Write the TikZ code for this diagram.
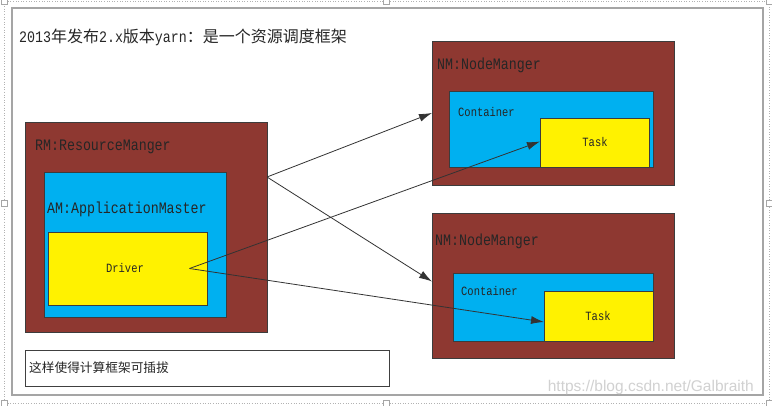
\documentclass[tikz,border=0pt]{standalone}
\usepackage{fontspec}
\setmainfont{Liberation Mono}[FakeStretch=0.83]
\newfontfamily\cjk{Noto Sans CJK SC}
\newfontfamily\wmfont{Liberation Sans}
\usetikzlibrary{arrows.meta}
\definecolor{rmbrown}{RGB}{142,56,49}
\definecolor{amblue}{RGB}{0,176,240}
\definecolor{dkline}{RGB}{60,60,60}
\definecolor{framegray}{RGB}{165,165,165}
\newcommand{\zhbig}[1]{{\cjk\fontsize{16}{16}\selectfont #1}}
\tikzset{
  box/.style={draw=dkline, line width=0.7pt, inner sep=0pt, outer sep=0pt, anchor=north west},
  brownbox/.style={box, fill=rmbrown},
  bluebox/.style={box, fill=amblue},
  yellowbox/.style={box, fill=yellow},
  biglabel/.style={anchor=west, inner sep=0pt, text=black!85, font=\fontsize{16}{18}\selectfont},
  smalllabel/.style={inner sep=0pt, text=black!85, font=\fontsize{12.6}{14}\selectfont},
  arr/.style={draw=black!80, line width=0.8pt, -{Latex[length=13pt,width=8pt]}},
  handle/.style={draw=gray!70, fill=white, line width=0.5pt, minimum size=6pt, inner sep=0pt}
}
\begin{document}
\begin{tikzpicture}[x=1pt,y=-1pt]
\useasboundingbox (0,0) rectangle (772,406);
\fill[white] (0,0) rectangle (772,406);
% selection frame
\draw[gray!60, dotted, line width=0.6pt] (4,1) rectangle (769,403);
\foreach \hx/\hy [count=\i] in {4/1,386/1,769/1,4/203,769/203,4/403,386/403,769/403}
  \node[handle] (h\i) at (\hx,\hy) {};
% outer frame
\draw[framegray, line width=1.5pt] (12,8) rectangle (763,395);
% title
\node[biglabel] (title) at (19,37) {2013\zhbig{年发布}2.x\zhbig{版本}yarn\zhbig{：是一个资源调度框架}};
% RM
\node[brownbox, minimum width=242pt, minimum height=210pt] (rm) at (25,122) {};
\node[biglabel] (rmlabel) at (35,147) {RM:ResourceManger};
\node[bluebox, minimum width=182pt, minimum height=145pt] (am) at (44,172) {};
\node[biglabel] (amlabel) at (47,209) {AM:ApplicationMaster};
\node[yellowbox, minimum width=159pt, minimum height=73pt] (driver) at (48,232) {};
\node[smalllabel] (drivertext) at (125,268) {Driver};
% NM1
\node[brownbox, minimum width=242pt, minimum height=144pt] (nm1) at (432,41) {};
\node[biglabel] (nm1label) at (437,65) {NM:NodeManger};
\node[bluebox, minimum width=204pt, minimum height=76pt] (c1) at (449,91) {};
\node[smalllabel, anchor=west] (c1label) at (458,112) {Container};
\node[yellowbox, minimum width=109pt, minimum height=49pt] (task1) at (540,118) {};
\node[smalllabel] (task1text) at (595,142) {Task};
% NM2
\node[brownbox, minimum width=242pt, minimum height=145pt] (nm2) at (432,213) {};
\node[biglabel] (nm2label) at (435,241) {NM:NodeManger};
\node[bluebox, minimum width=200pt, minimum height=68pt] (c2) at (453,273) {};
\node[smalllabel, anchor=west] (c2label) at (461,291) {Container};
\node[yellowbox, minimum width=109pt, minimum height=50pt] (task2) at (544,291) {};
\node[smalllabel] (task2text) at (598,316) {Task};
% note
\node[box, draw=black!75, line width=0.9pt, minimum width=364pt, minimum height=36pt] (note) at (25,350) {};
\node[anchor=west, inner sep=0pt, text=black!85, font=\cjk\fontsize{12.7}{14}\selectfont] (notetext) at (29,368) {这样使得计算框架可插拔};
% watermark
\node[anchor=east, inner sep=0pt, text=black!18, font=\wmfont\fontsize{15.5}{16}\selectfont] (wm) at (754,387) {https://blog.csdn.net/Galbraith};
% arrows
\coordinate (rmout) at ([yshift=-55pt]rm.north east);
\coordinate (drvout) at ([xshift=62pt]driver.center);
\draw[arr] (rmout) -- (nm1.west);
\draw[arr] (rmout) -- ([yshift=4pt]nm2.west);
\draw[arr] (drvout) -- ([yshift=1pt]task1.west);
\draw[arr] (drvout) -- ([yshift=-6pt]task2.west);
\end{tikzpicture}
\end{document}
